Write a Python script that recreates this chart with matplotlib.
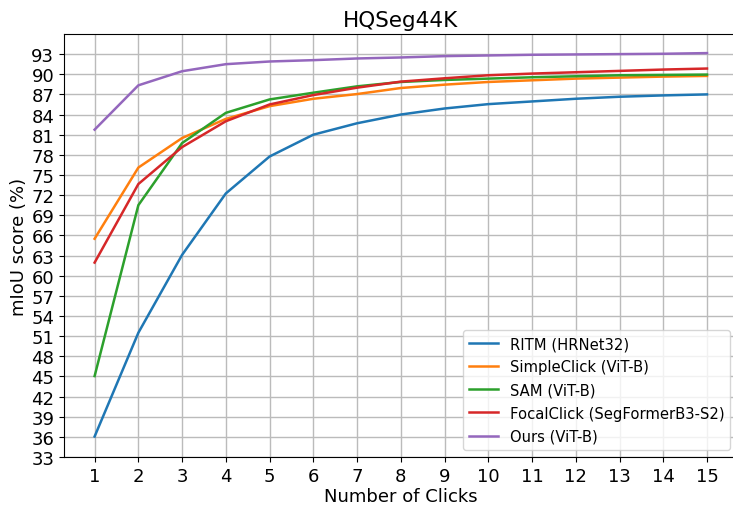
# mIoU vs. number of clicks on HQSeg44K
import numpy as np
import matplotlib
matplotlib.use('Agg')
import matplotlib.pyplot as plt

clicks = np.arange(1, 16)

ritm = [36.05, 51.5, 63.1, 72.25, 77.75, 81.0, 82.7, 84.0, 84.9, 85.55, 85.95, 86.35, 86.65, 86.85, 87.0]
simpleclick = [65.5, 76.1, 80.5, 83.35, 85.25, 86.35, 87.05, 87.95, 88.45, 88.85, 89.1, 89.35, 89.5, 89.65, 89.75]
sam = [45.05, 70.5, 79.75, 84.25, 86.25, 87.25, 88.2, 88.85, 89.15, 89.35, 89.55, 89.7, 89.85, 89.9, 89.95]
focalclick = [61.95, 73.65, 79.15, 83.0, 85.5, 86.9, 88.0, 88.9, 89.4, 89.85, 90.1, 90.3, 90.5, 90.7, 90.85]
ours = [81.75, 88.35, 90.45, 91.5, 91.9, 92.1, 92.35, 92.5, 92.7, 92.8, 92.9, 92.95, 93.0, 93.05, 93.15]

names = ['RITM (HRNet32)', 'SimpleClick (ViT-B)', 'SAM (ViT-B)',
         'FocalClick (SegFormerB3-S2)', 'Ours (ViT-B)']
series = [ritm, simpleclick, sam, focalclick, ours]

fig = plt.figure(figsize=(7.33, 5.06), dpi=100)
ax = fig.add_axes([0.0873, 0.0949, 0.919, 0.836])

for name, vals in zip(names, series):
    ax.plot(clicks, vals, label=name, linewidth=1.8)

ax.set_xlim(0.3, 15.7)
ax.set_ylim(33, 96)
ax.set_xticks(clicks)
ax.set_yticks(np.arange(33, 94, 3))
ax.tick_params(labelsize=13)
ax.grid(True, linewidth=1.0, color='#bbbbbb')
ax.set_xlabel('Number of Clicks', fontsize=13, labelpad=2)
ax.set_ylabel('mIoU score (%)', fontsize=13, labelpad=2)
ax.set_title('HQSeg44K', fontsize=15.5, pad=6)
ax.legend(loc='lower right', fontsize=10.6, labelspacing=0.55)

fig.savefig('out.png', dpi=100)
